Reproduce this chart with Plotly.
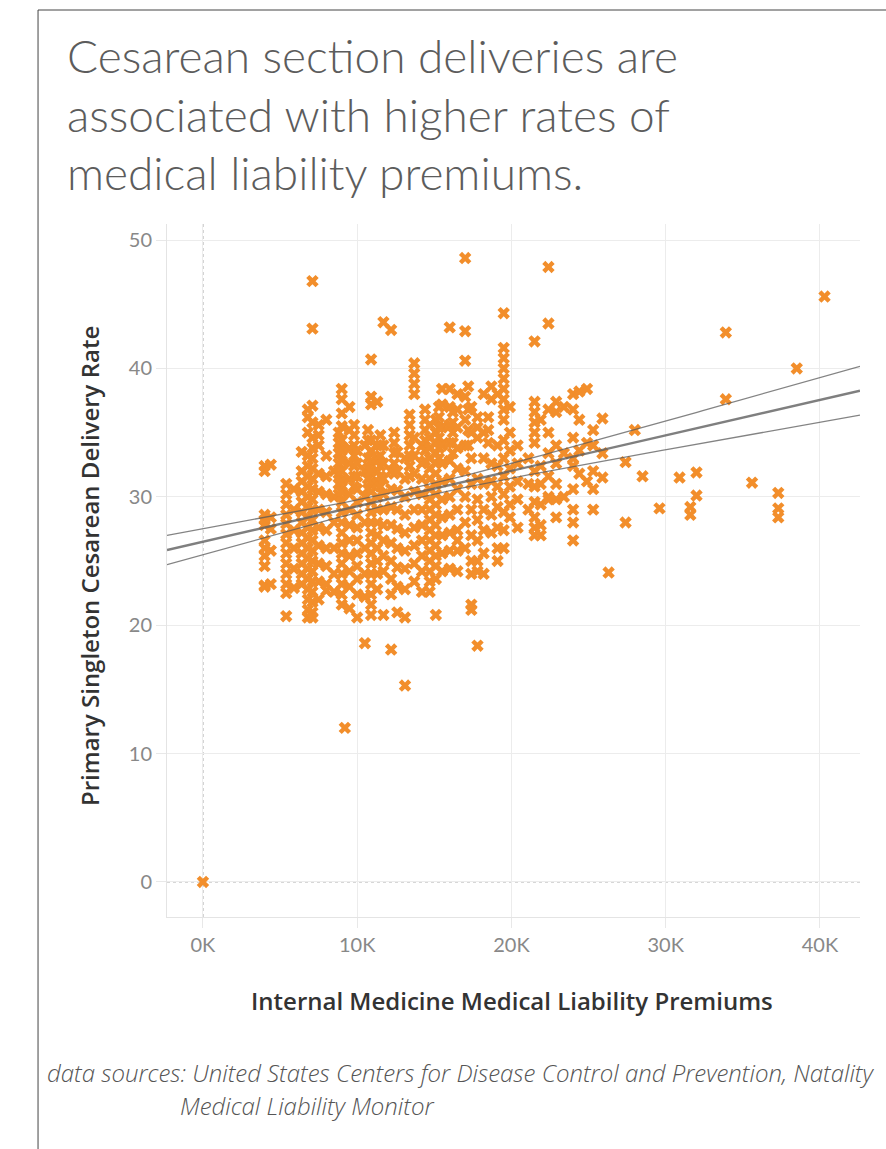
import numpy as np
import plotly.graph_objects as go

# Internal medicine liability premium (thousands of dollars) for each column of observations
premium_k = [
    0.0, 4.0, 4.4, 5.4, 5.9, 6.4, 6.8, 7.1, 7.5, 8.0, 8.5, 8.8, 9.0, 9.2, 9.5, 9.8,
    10.0, 10.5, 10.7, 10.9, 11.3, 11.5, 11.7, 12.2, 12.4, 12.6, 13.1, 13.4, 13.7,
    14.2, 14.4, 14.7, 15.1, 15.3, 15.5, 16.0, 16.2, 16.5, 17.0, 17.2, 17.4, 17.8,
    18.2, 18.5, 18.7, 19.1, 19.5, 19.9, 20.4, 21.1, 21.5, 21.9, 22.4, 22.9, 23.4,
    24.0, 24.4, 24.9, 25.3, 25.9, 26.3, 27.4, 28.0, 28.5, 29.6, 30.9, 31.6, 32.0,
    33.9, 35.6, 37.3, 38.5, 40.3,
]

# Primary singleton cesarean delivery rates recorded at each premium level
cesarean_rate = [
    [0.0],
    [32.4, 32.0, 28.6, 28.2, 27.8, 26.6, 26.0, 25.4, 24.6, 23.1, 23.0],
    [32.5, 28.4, 27.5, 25.8, 23.2],
    [31.0, 30.2, 29.4, 28.6, 27.9, 27.1, 26.4, 25.6, 24.8, 24.0, 23.2, 22.5, 20.7],
    [30.6, 29.0, 27.4, 26.0, 24.4, 22.9],
    [33.5, 32.0, 31.2, 30.4, 29.6, 28.8, 28.0, 27.2, 26.4, 25.6, 24.8, 24.0, 23.2],
    [36.8, 36.2, 35.0, 33.2, 32.4, 31.6, 30.8, 30.0, 29.2, 28.4, 27.6, 26.8, 26.0,
     25.2, 24.4, 23.6, 22.8, 22.0, 21.2, 20.6],
    [46.8, 43.1, 37.1, 35.8, 34.6, 33.8, 33.0, 32.2, 31.4, 30.6, 29.8, 29.0, 28.2,
     27.4, 26.6, 25.8, 25.0, 24.2, 23.4, 22.6, 21.8, 21.0, 20.6],
    [35.6, 34.8, 34.0, 31.8, 30.4, 29.0, 27.6, 26.2, 24.8, 23.4, 22.0],
    [36.0, 33.2, 31.6, 30.2, 28.8, 27.4, 26.0, 24.6, 23.2, 22.7],
    [32.0, 30.0, 28.0, 26.0, 24.0, 22.6],
    [35.0, 34.2, 33.4, 32.6, 31.8, 31.0, 30.2],
    [38.4, 37.6, 36.5, 35.5, 34.4, 33.6, 32.8, 32.0, 31.2, 30.4, 29.6, 28.8, 28.0,
     27.2, 26.4, 25.6, 24.8, 24.0, 23.2, 22.4, 21.6],
    [12.0],
    [37.0, 35.2, 33.8, 32.6, 31.4, 30.2, 29.0, 27.8, 26.6, 25.4, 24.2, 23.0, 21.3],
    [35.6, 34.8, 34.0, 33.2, 32.4, 31.6, 30.8],
    [33.6, 32.6, 31.6, 30.6, 29.6, 28.6, 27.6, 26.6, 25.6, 24.6, 23.6, 22.4, 20.6],
    [34.0, 32.0, 30.0, 28.0, 26.0, 24.0, 22.2, 18.6],
    [35.2, 34.4, 33.0, 32.2, 31.4, 30.6],
    [40.7, 37.8, 37.2, 34.4, 33.6, 32.8, 32.0, 31.2, 30.4, 29.6, 28.8, 28.0, 27.2,
     26.4, 25.6, 24.8, 24.0, 23.2, 22.4, 21.6, 20.8],
    [37.4, 34.0, 33.0, 32.0, 31.0, 30.0, 29.0, 28.0, 27.0, 26.0, 25.0, 24.0, 22.8],
    [34.8, 34.0, 33.2, 32.4, 31.6, 30.8],
    [43.6, 34.0, 32.6, 31.4, 30.2, 29.0, 27.8, 26.6, 25.4, 24.2, 20.8],
    [43.0, 32.0, 30.6, 29.2, 27.8, 26.4, 25.0, 23.6, 22.4, 18.1],
    [35.0, 34.2, 33.4, 32.6, 31.8],
    [33.5, 32.0, 30.5, 29.0, 27.5, 26.0, 24.5, 23.0, 21.0],
    [33.0, 31.4, 30.0, 28.6, 27.2, 25.8, 24.4, 22.8, 20.6, 15.3],
    [36.4, 35.6, 34.8, 34.0, 33.2, 32.4, 31.6],
    [40.4, 39.6, 38.8, 38.0, 34.6, 33.2, 31.8, 30.4, 29.0, 27.6, 26.2, 24.8, 23.4],
    [34.0, 32.6, 31.4, 30.2, 29.0, 27.8, 26.6, 25.4, 24.2, 22.6],
    [36.8, 36.0, 35.2, 34.4, 33.6, 32.8],
    [35.6, 34.6, 33.8, 33.0, 32.2, 31.4, 30.6, 29.8, 29.0, 28.2, 27.4, 26.6, 25.8,
     25.0, 24.2, 23.4, 22.6],
    [36.0, 35.0, 34.2, 33.4, 32.6, 31.8, 31.0, 30.2, 29.4, 28.6, 27.8, 27.0, 26.2,
     25.4, 24.6, 23.6, 20.8],
    [37.0, 36.2, 35.4, 34.6, 33.8, 33.0],
    [38.4, 37.2, 35.4, 34.0, 32.6, 31.2, 29.8, 28.4, 27.0, 25.6, 24.2],
    [43.2, 38.4, 37.0, 35.6, 34.2, 32.8, 31.4, 30.0, 28.6, 27.2, 25.8, 24.4],
    [36.6, 35.8, 35.0, 34.2, 33.4],
    [38.0, 36.8, 35.4, 33.8, 32.2, 30.6, 29.0, 27.4, 26.6, 25.8, 24.2],
    [48.6, 42.9, 40.6, 37.8, 36.0, 34.0, 32.0, 30.0, 28.0, 26.0],
    [38.6, 36.8, 35.2, 34.0],
    [37.0, 35.0, 33.0, 31.0, 29.0, 27.0, 25.0, 24.0, 21.6, 21.2],
    [36.2, 35.4, 34.6, 31.4, 29.8, 28.2, 26.6, 25.0, 24.2, 18.4],
    [38.0, 35.0, 33.0, 31.0, 29.0, 27.4, 25.6, 24.0],
    [36.2, 35.2, 34.2],
    [38.6, 37.6, 32.6, 31.2, 30.0, 28.6, 27.2],
    [38.0, 34.0, 32.4, 30.8, 29.2, 27.6, 26.0, 25.0],
    [44.3, 41.6, 40.8, 40.0, 39.2, 38.4, 37.6, 36.8, 36.0, 34.4, 33.0, 31.6, 30.2,
     28.8, 27.4, 26.0],
    [37.0, 35.0, 33.6, 32.2, 30.8, 29.4, 28.4],
    [34.0, 32.6, 31.2, 29.8, 27.6],
    [33.0, 31.0, 29.0],
    [42.1, 37.4, 36.6, 35.8, 35.0, 34.2, 32.0, 30.8, 29.6, 28.4, 27.6, 27.0],
    [36.0, 32.4, 31.0, 29.4, 27.8, 27.0],
    [47.9, 43.5, 36.8, 35.0, 33.4, 31.6, 30.0, 29.8],
    [37.4, 36.6, 34.0, 32.6, 31.0, 29.8, 28.4],
    [37.0, 33.4, 30.0],
    [38.0, 36.8, 34.6, 33.0, 32.4, 30.6, 29.0, 28.0, 26.6],
    [38.2, 36.0, 33.6, 31.8],
    [38.4, 34.2, 31.2],
    [35.2, 34.0, 32.0, 30.6, 29.0],
    [36.1, 33.4, 31.5],
    [24.1],
    [32.7, 28.0],
    [35.2],
    [31.6],
    [29.1],
    [31.5],
    [29.2, 28.6],
    [31.9, 30.1],
    [42.8, 37.6],
    [31.1],
    [30.3, 29.1, 28.4],
    [40.0],
    [45.6],
]

x_ticks = [0, 10, 20, 30, 40]
x_tick_text = ["0K", "10K", "20K", "30K", "40K"]
y_ticks = [0, 10, 20, 30, 40, 50]

title_lines = [
    "Cesarean section deliveries are",
    "associated with higher rates of",
    "medical liability premiums.",
]
source_lines = [
    "data sources: United States Centers for Disease Control and Prevention, Natality",
    "Medical Liability Monitor",
]

# Flatten the columns into points
px_vals, py_vals = [], []
for xk, ys in zip(premium_k, cesarean_rate):
    for yv in ys:
        px_vals.append(xk)
        py_vals.append(yv)
X = np.array(px_vals)
Y = np.array(py_vals)

# Ordinary least squares trend with 95% confidence band
n = len(X)
slope, intercept = np.polyfit(X, Y, 1)
resid = Y - (slope * X + intercept)
s = np.sqrt(np.sum(resid ** 2) / (n - 2))
x_mean = X.mean()
sxx = np.sum((X - x_mean) ** 2)
x_range = [-2.33, 42.6]
xs = np.linspace(x_range[0], x_range[1], 120)
fit = slope * xs + intercept
half = 1.96 * s * np.sqrt(1.0 / n + (xs - x_mean) ** 2 / sxx)

ORANGE = "#F28E2B"
fig = go.Figure()
fig.add_trace(go.Scatter(
    x=X, y=Y, mode="markers",
    marker=dict(symbol="x", size=11, color=ORANGE, line=dict(width=0)),
    hoverinfo="x+y", showlegend=False,
))
for band in (fit + half, fit - half):
    fig.add_trace(go.Scatter(
        x=xs, y=band, mode="lines",
        line=dict(color="rgba(90,90,90,0.75)", width=1.3),
        hoverinfo="skip", showlegend=False,
    ))
fig.add_trace(go.Scatter(
    x=xs, y=fit, mode="lines",
    line=dict(color="rgba(95,95,95,0.8)", width=2.4),
    hoverinfo="skip", showlegend=False,
))

FONT = "Lato"
AXIS_FONT = "Open Sans"
annotations = []
for i, line in enumerate(title_lines):
    annotations.append(dict(
        text=line, xref="paper", yref="paper", x=-0.1472, y=[1.2425, 1.158, 1.074][i],
        xanchor="left", yanchor="middle", showarrow=False,
        font=dict(family=FONT, size=46, color="#5c5c5c", weight=300),
    ))
annotations.append(dict(
    text="Primary Singleton Cesarean Delivery Rate", xref="paper", yref="paper",
    x=-0.111, y=0.5065, textangle=-90, xanchor="center", yanchor="middle",
    showarrow=False, font=dict(family=AXIS_FONT, size=24, color="#333333", weight=600),
))
annotations.append(dict(
    text="Internal Medicine Medical Liability Premiums", xref="paper", yref="paper",
    x=0.498, y=-0.1212, xanchor="center", yanchor="middle",
    showarrow=False, font=dict(family=AXIS_FONT, size=24, color="#333333", weight=600),
))
annotations.append(dict(
    text="<i>" + source_lines[0] + "</i>", xref="paper", yref="paper",
    x=-0.176, y=-0.2237, xanchor="left", yanchor="middle", showarrow=False,
    font=dict(family=AXIS_FONT, size=24, color="#555555", weight=300),
))
annotations.append(dict(
    text="<i>" + source_lines[1] + "</i>", xref="paper", yref="paper",
    x=0.0159, y=-0.2713, xanchor="left", yanchor="middle", showarrow=False,
    font=dict(family=AXIS_FONT, size=24, color="#555555", weight=300),
))

shapes = [
    # dotted zero lines
    dict(type="line", xref="x", yref="paper", x0=0, x1=0, y0=0, y1=1,
         line=dict(color="#b0b0b0", width=1.2, dash="dot"), layer="below"),
    dict(type="line", xref="paper", yref="y", x0=0, x1=1, y0=0, y1=0,
         line=dict(color="#b0b0b0", width=1.2, dash="dot"), layer="below"),
    # outer frame
    dict(type="line", xref="paper", yref="paper", x0=-0.1861, x1=-0.1861, y0=1.3088, y1=-0.6,
         line=dict(color="#444444", width=1)),
    dict(type="line", xref="paper", yref="paper", x0=-0.1861, x1=1.6, y0=1.3088, y1=1.3088,
         line=dict(color="#444444", width=1)),
]

fig.update_layout(
    width=886, height=1149,
    margin=dict(l=167, r=26, t=224, b=232),
    paper_bgcolor="white", plot_bgcolor="white",
    annotations=annotations, shapes=shapes,
    font=dict(family=FONT),
    xaxis=dict(
        range=x_range, tickvals=x_ticks, ticktext=x_tick_text,
        showgrid=True, gridcolor="#ececec", gridwidth=1, zeroline=False,
        showline=True, linecolor="#e4e4e4", linewidth=1,
        ticks="outside", ticklen=10, tickcolor="#e8e8e8",
        tickfont=dict(family=FONT, size=20, color="#888888"),
    ),
    yaxis=dict(
        range=[-2.73, 51.25], tickvals=y_ticks,
        showgrid=True, gridcolor="#ececec", gridwidth=1, zeroline=False,
        showline=True, linecolor="#e4e4e4", linewidth=1,
        ticks="outside", ticklen=10, tickcolor="#e8e8e8",
        tickfont=dict(family=FONT, size=20, color="#888888"),
    ),
)

fig.write_html("out.html")
